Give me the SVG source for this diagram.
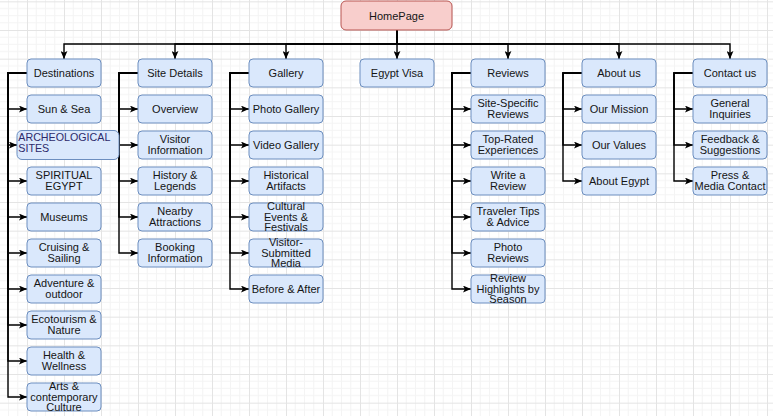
<svg xmlns="http://www.w3.org/2000/svg" width="773" height="416" viewBox="0 0 773 416">
  <defs>
    <pattern id="grid" patternUnits="userSpaceOnUse" x="27" y="1.333" width="37" height="28.667">
      <rect width="37" height="28.667" fill="#ffffff"/>
      <g stroke="#f4f4f4" stroke-width="1">
        <line x1="9.25" y1="0" x2="9.25" y2="28.667"/>
        <line x1="18.5" y1="0" x2="18.5" y2="28.667"/>
        <line x1="27.75" y1="0" x2="27.75" y2="28.667"/>
        <line x1="0" y1="7.167" x2="37" y2="7.167"/>
        <line x1="0" y1="14.333" x2="37" y2="14.333"/>
        <line x1="0" y1="21.5" x2="37" y2="21.5"/>
      </g>
      <g stroke="#e4e4e4" stroke-width="1">
        <line x1="0.5" y1="0" x2="0.5" y2="28.667"/>
        <line x1="0" y1="0.5" x2="37" y2="0.5"/>
      </g>
    </pattern>
    <marker id="arrow" markerUnits="userSpaceOnUse" markerWidth="8" markerHeight="7" viewBox="0 0 7 6" refX="7" refY="3" orient="auto">
      <path d="M0,0 L7,3 L0,6 L1.6,3 Z" fill="#000000"/>
    </marker>
  </defs>
  <style>
    .node rect { fill: #dae8fc; stroke: #6c8ebf; stroke-width: 1; }
    .root rect { fill: #f8cecc; stroke: #b85450; stroke-width: 1; }
    .node text { font-family: "Liberation Sans", Arial, sans-serif; font-size: 11px; fill: #151515; text-anchor: middle; }
    .node text.left { text-anchor: start; fill: #2d2a6b; font-size: 10.7px; }
    .edges path { fill: none; stroke: #000000; stroke-width: 1.4; marker-end: url(#arrow); }
  </style>

  <rect width="773" height="416" fill="url(#grid)"/>

  <!-- connectors -->
  <g id="edges" class="edges">
    <!-- root to sections -->
    <path d="M397,30 V44 H64 V59"/>
    <path d="M397,30 V44 H175 V59"/>
    <path d="M397,30 V44 H286 V59"/>
    <path d="M397,30 V59"/>
    <path d="M397,30 V44 H508 V59"/>
    <path d="M397,30 V44 H619 V59"/>
    <path d="M397,30 V44 H730 V59"/>
    <!-- Destinations -->
    <path d="M27,73 H8 V109 H27"/>
    <path d="M27,73 H8 V145 H17"/>
    <path d="M27,73 H8 V181 H27"/>
    <path d="M27,73 H8 V217 H27"/>
    <path d="M27,73 H8 V253 H27"/>
    <path d="M27,73 H8 V289 H27"/>
    <path d="M27,73 H8 V325 H27"/>
    <path d="M27,73 H8 V361 H27"/>
    <path d="M27,73 H8 V397 H27"/>
    <!-- Site Details -->
    <path d="M138,73 H119 V109 H138"/>
    <path d="M138,73 H119 V145 H138"/>
    <path d="M138,73 H119 V181 H138"/>
    <path d="M138,73 H119 V217 H138"/>
    <path d="M138,73 H119 V253 H138"/>
    <!-- Gallery -->
    <path d="M249,73 H230 V109 H249"/>
    <path d="M249,73 H230 V145 H249"/>
    <path d="M249,73 H230 V181 H249"/>
    <path d="M249,73 H230 V217 H249"/>
    <path d="M249,73 H230 V253 H249"/>
    <path d="M249,73 H230 V289 H249"/>
    <!-- Reviews -->
    <path d="M471,73 H452 V109 H471"/>
    <path d="M471,73 H452 V145 H471"/>
    <path d="M471,73 H452 V181 H471"/>
    <path d="M471,73 H452 V217 H471"/>
    <path d="M471,73 H452 V253 H471"/>
    <path d="M471,73 H452 V289 H471"/>
    <!-- About us -->
    <path d="M582,73 H563 V109 H582"/>
    <path d="M582,73 H563 V145 H582"/>
    <path d="M582,73 H563 V181 H582"/>
    <!-- Contact us -->
    <path d="M693,73 H674 V109 H693"/>
    <path d="M693,73 H674 V145 H693"/>
    <path d="M693,73 H674 V181 H693"/>
  </g>

  <!-- root -->
  <g id="n-homepage" class="node root"><rect x="341" y="1" width="111" height="29" rx="5"/><text x="396.5" y="19.5">HomePage</text></g>

  <!-- Destinations column -->
  <g id="n-destinations" class="node"><rect x="27" y="59" width="74" height="28" rx="4"/><text x="64" y="76.7">Destinations</text></g>
  <g id="n-sun-sea" class="node"><rect x="27" y="95" width="74" height="28" rx="4"/><text x="64" y="112.7">Sun &amp; Sea</text></g>
  <g id="n-archeological" class="node"><rect x="17" y="130.5" width="102" height="29" rx="5"/><text class="left"><tspan x="18.3" y="140.7">ARCHEOLOGICAL</tspan><tspan x="18.3" y="152.3">SITES</tspan></text></g>
  <g id="n-spiritual" class="node"><rect x="27" y="167" width="74" height="28" rx="4"/><text><tspan x="64" y="179.35">SPIRITUAL</tspan><tspan x="64" y="190.05">EGYPT</tspan></text></g>
  <g id="n-museums" class="node"><rect x="27" y="203" width="74" height="28" rx="4"/><text x="64" y="220.7">Museums</text></g>
  <g id="n-cruising" class="node"><rect x="27" y="239" width="74" height="28" rx="4"/><text><tspan x="64" y="251.35">Cruising &amp;</tspan><tspan x="64" y="262.05">Sailing</tspan></text></g>
  <g id="n-adventure" class="node"><rect x="27" y="275" width="74" height="28" rx="4"/><text><tspan x="64" y="287.35">Adventure &amp;</tspan><tspan x="64" y="298.05">outdoor</tspan></text></g>
  <g id="n-ecotourism" class="node"><rect x="27" y="311" width="74" height="28" rx="4"/><text><tspan x="64" y="323.35">Ecotourism &amp;</tspan><tspan x="64" y="334.05">Nature</tspan></text></g>
  <g id="n-health" class="node"><rect x="27" y="347" width="74" height="28" rx="4"/><text><tspan x="64" y="359.35">Health &amp;</tspan><tspan x="64" y="370.05">Wellness</tspan></text></g>
  <g id="n-arts" class="node"><rect x="27" y="383" width="74" height="28" rx="4"/><text><tspan x="64" y="390.3">Arts &amp;</tspan><tspan x="64" y="400.5">contemporary</tspan><tspan x="64" y="410.7">Culture</tspan></text></g>

  <!-- Site Details column -->
  <g id="n-site-details" class="node"><rect x="138" y="59" width="74" height="28" rx="4"/><text x="175" y="76.7">Site Details</text></g>
  <g id="n-overview" class="node"><rect x="138" y="95" width="74" height="28" rx="4"/><text x="175" y="112.7">Overview</text></g>
  <g id="n-visitor-info" class="node"><rect x="138" y="131" width="74" height="28" rx="4"/><text><tspan x="175" y="143.35">Visitor</tspan><tspan x="175" y="154.05">Information</tspan></text></g>
  <g id="n-history" class="node"><rect x="138" y="167" width="74" height="28" rx="4"/><text><tspan x="175" y="179.35">History &amp;</tspan><tspan x="175" y="190.05">Legends</tspan></text></g>
  <g id="n-nearby" class="node"><rect x="138" y="203" width="74" height="28" rx="4"/><text><tspan x="175" y="215.35">Nearby</tspan><tspan x="175" y="226.05">Attractions</tspan></text></g>
  <g id="n-booking" class="node"><rect x="138" y="239" width="74" height="28" rx="4"/><text><tspan x="175" y="251.35">Booking</tspan><tspan x="175" y="262.05">Information</tspan></text></g>

  <!-- Gallery column -->
  <g id="n-gallery" class="node"><rect x="249" y="59" width="74" height="28" rx="4"/><text x="286" y="76.7">Gallery</text></g>
  <g id="n-photo-gallery" class="node"><rect x="249" y="95" width="74" height="28" rx="4"/><text x="286" y="112.7">Photo Gallery</text></g>
  <g id="n-video-gallery" class="node"><rect x="249" y="131" width="74" height="28" rx="4"/><text x="286" y="148.7">Video Gallery</text></g>
  <g id="n-artifacts" class="node"><rect x="249" y="167" width="74" height="28" rx="4"/><text><tspan x="286" y="179.35">Historical</tspan><tspan x="286" y="190.05">Artifacts</tspan></text></g>
  <g id="n-cultural" class="node"><rect x="249" y="203" width="74" height="28" rx="4"/><text><tspan x="286" y="210.3">Cultural</tspan><tspan x="286" y="220.5">Events &amp;</tspan><tspan x="286" y="230.7">Festivals</tspan></text></g>
  <g id="n-visitor-media" class="node"><rect x="249" y="239" width="74" height="28" rx="4"/><text><tspan x="286" y="246.3">Visitor-</tspan><tspan x="286" y="256.5">Submitted</tspan><tspan x="286" y="266.7">Media</tspan></text></g>
  <g id="n-before-after" class="node"><rect x="249" y="275" width="74" height="28" rx="4"/><text x="286" y="292.7">Before &amp; After</text></g>

  <!-- Egypt Visa -->
  <g id="n-egypt-visa" class="node"><rect x="360" y="59" width="74" height="28" rx="4"/><text x="397" y="76.7">Egypt Visa</text></g>

  <!-- Reviews column -->
  <g id="n-reviews" class="node"><rect x="471" y="59" width="74" height="28" rx="4"/><text x="508" y="76.7">Reviews</text></g>
  <g id="n-site-specific" class="node"><rect x="471" y="95" width="74" height="28" rx="4"/><text><tspan x="508" y="107.35">Site-Specific</tspan><tspan x="508" y="118.05">Reviews</tspan></text></g>
  <g id="n-top-rated" class="node"><rect x="471" y="131" width="74" height="28" rx="4"/><text><tspan x="508" y="143.35">Top-Rated</tspan><tspan x="508" y="154.05">Experiences</tspan></text></g>
  <g id="n-write-review" class="node"><rect x="471" y="167" width="74" height="28" rx="4"/><text><tspan x="508" y="179.35">Write a</tspan><tspan x="508" y="190.05">Review</tspan></text></g>
  <g id="n-traveler-tips" class="node"><rect x="471" y="203" width="74" height="28" rx="4"/><text><tspan x="508" y="215.35">Traveler Tips</tspan><tspan x="508" y="226.05">&amp; Advice</tspan></text></g>
  <g id="n-photo-reviews" class="node"><rect x="471" y="239" width="74" height="28" rx="4"/><text><tspan x="508" y="251.35">Photo</tspan><tspan x="508" y="262.05">Reviews</tspan></text></g>
  <g id="n-highlights" class="node"><rect x="471" y="275" width="74" height="28" rx="4"/><text><tspan x="508" y="282.3">Review</tspan><tspan x="508" y="292.5">Highlights by</tspan><tspan x="508" y="302.7">Season</tspan></text></g>

  <!-- About us column -->
  <g id="n-about-us" class="node"><rect x="582" y="59" width="74" height="28" rx="4"/><text x="619" y="76.7">About us</text></g>
  <g id="n-mission" class="node"><rect x="582" y="95" width="74" height="28" rx="4"/><text x="619" y="112.7">Our Mission</text></g>
  <g id="n-values" class="node"><rect x="582" y="131" width="74" height="28" rx="4"/><text x="619" y="148.7">Our Values</text></g>
  <g id="n-about-egypt" class="node"><rect x="582" y="167" width="74" height="28" rx="4"/><text x="619" y="184.7">About Egypt</text></g>

  <!-- Contact us column -->
  <g id="n-contact-us" class="node"><rect x="693" y="59" width="74" height="28" rx="4"/><text x="730" y="76.7">Contact us</text></g>
  <g id="n-inquiries" class="node"><rect x="693" y="95" width="74" height="28" rx="4"/><text><tspan x="730" y="107.35">General</tspan><tspan x="730" y="118.05">Inquiries</tspan></text></g>
  <g id="n-feedback" class="node"><rect x="693" y="131" width="74" height="28" rx="4"/><text><tspan x="730" y="143.35">Feedback &amp;</tspan><tspan x="730" y="154.05">Suggestions</tspan></text></g>
  <g id="n-press" class="node"><rect x="693" y="167" width="74" height="28" rx="4"/><text><tspan x="730" y="179.35">Press &amp;</tspan><tspan x="730" y="190.05">Media Contact</tspan></text></g>
</svg>
